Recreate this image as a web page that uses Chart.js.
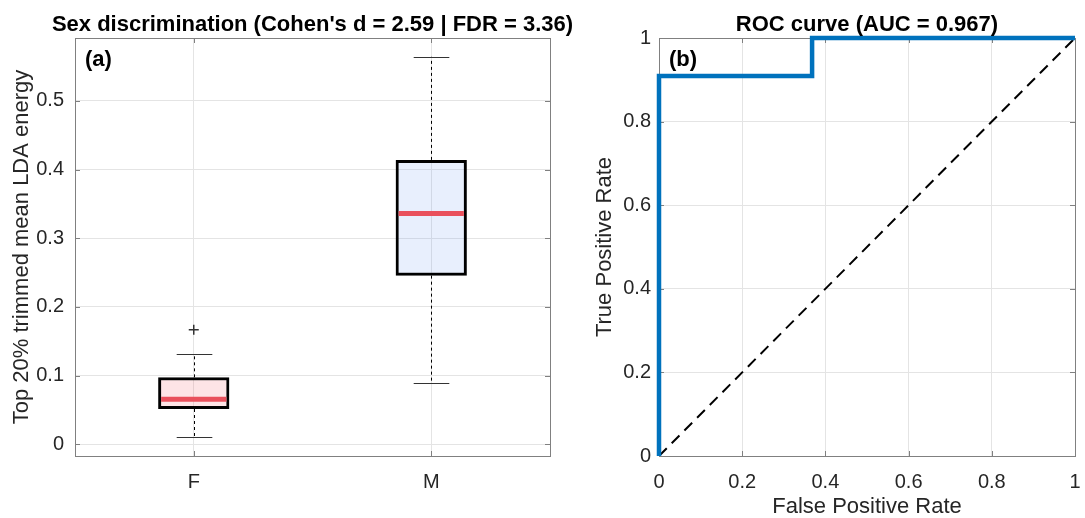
<!DOCTYPE html>
<html lang="en">
<head>
<meta charset="UTF-8">
<title>Sex discrimination / ROC</title>
<script src="https://cdn.jsdelivr.net/npm/chart.js"></script>
<style>
  body { margin: 0; background: #fff; overflow: hidden; }
  #wrap { position: relative; width: 1085px; height: 518px; }
  #boxChart { position: absolute; left: 0; top: 0; }
  #rocChart { position: absolute; left: 560px; top: 0; }
</style>
</head>
<body>
<div id="wrap">
  <canvas id="boxChart" width="600" height="518"></canvas>
  <canvas id="rocChart" width="525" height="518"></canvas>
</div>
<script>
// (a) boxplot stats per group
const groups = ['F', 'M'];
const q1 = [0.0514, 0.2455];
const q3 = [0.0975, 0.414];
const medians = [0.0655, 0.336];
const whiskerLow = [0.0106, 0.0894];
const whiskerHigh = [0.1314, 0.564];
const outliers = [[0.1666], []];
const boxYTicks = [0, 0.1, 0.2, 0.3, 0.4, 0.5];
const boxYLabels = ['0', '0.1', '0.2', '0.3', '0.4', '0.5'];

// (b) ROC curve
const fpr = [0, 0, 0.368, 0.368, 1];
const tpr = [0, 0.909, 0.909, 1, 1];
const chance = [0, 1];
const rocTicks = [0, 0.2, 0.4, 0.6, 0.8, 1];
const rocLabels = ['0', '0.2', '0.4', '0.6', '0.8', '1'];

const FONT = "'Liberation Sans', Arial, Helvetica, sans-serif";
Chart.defaults.font.family = FONT;
Chart.defaults.color = '#262626';

const GRID = '#e4e4e4';
const FRAME = '#808080';

// matlab style box around the axes with inward ticks
const frame = {
  id: 'frame',
  beforeDatasetsDraw(chart) {
    const {ctx, chartArea: a, scales: {x, y}} = chart;
    ctx.save();
    ctx.strokeStyle = FRAME;
    ctx.lineWidth = 1;
    ctx.strokeRect(Math.round(a.left) + 0.5, Math.round(a.top) + 0.5,
      Math.round(a.right - a.left), Math.round(a.bottom - a.top));
    ctx.beginPath();
    x.ticks.forEach((t, i) => {
      const px = Math.round(x.getPixelForTick(i)) + 0.5;
      ctx.moveTo(px, a.bottom); ctx.lineTo(px, a.bottom - 5);
      ctx.moveTo(px, a.top); ctx.lineTo(px, a.top + 5);
    });
    y.ticks.forEach((t, i) => {
      const py = Math.round(y.getPixelForTick(i)) + 0.5;
      ctx.moveTo(a.left, py); ctx.lineTo(a.left + 5, py);
      ctx.moveTo(a.right, py); ctx.lineTo(a.right - 5, py);
    });
    ctx.stroke();
    ctx.restore();
  }
};

// title centred over the axes, plus the (a)/(b) tag inside
const panelText = {
  id: 'panelText',
  afterDraw(chart, args, opts) {
    const {ctx, chartArea: a} = chart;
    ctx.save();
    ctx.font = 'bold 22px ' + FONT;
    ctx.fillStyle = '#000';
    ctx.textBaseline = 'middle';
    ctx.textAlign = 'center';
    ctx.fillText(opts.title, (a.left + a.right) / 2, 25);
    ctx.textAlign = 'left';
    ctx.fillText(opts.tag, a.left + 10, a.top + 22);
    ctx.restore();
  }
};

// whiskers, caps, medians and outliers around the floating bars
const boxExtras = {
  id: 'boxExtras',
  beforeDatasetsDraw(chart) {
    const {ctx, scales: {x, y}} = chart;
    const half = (x.getPixelForValue(1) - x.getPixelForValue(0)) * 0.075;
    ctx.save();
    groups.forEach((g, i) => {
      const cx = Math.round(x.getPixelForValue(i)) + 0.5;
      ctx.strokeStyle = '#000';
      ctx.lineWidth = 1;
      ctx.setLineDash([3, 3]);
      ctx.beginPath();
      ctx.moveTo(cx, y.getPixelForValue(q3[i]));
      ctx.lineTo(cx, y.getPixelForValue(whiskerHigh[i]));
      ctx.moveTo(cx, y.getPixelForValue(q1[i]));
      ctx.lineTo(cx, y.getPixelForValue(whiskerLow[i]));
      ctx.stroke();
      ctx.setLineDash([]);
      ctx.strokeStyle = '#333';
      ctx.beginPath();
      [whiskerHigh[i], whiskerLow[i]].forEach(v => {
        const py = Math.round(y.getPixelForValue(v)) + 0.5;
        ctx.moveTo(cx - half, py);
        ctx.lineTo(cx + half, py);
      });
      ctx.stroke();
    });
    ctx.restore();
  },
  afterDatasetsDraw(chart) {
    const {ctx, scales: {x, y}} = chart;
    const meta = chart.getDatasetMeta(0);
    ctx.save();
    groups.forEach((g, i) => {
      const bar = meta.data[i];
      const py = y.getPixelForValue(medians[i]);
      ctx.strokeStyle = '#e9505c';
      ctx.lineWidth = 5;
      ctx.beginPath();
      ctx.moveTo(bar.x - bar.width / 2 + 3, py);
      ctx.lineTo(bar.x + bar.width / 2 - 3, py);
      ctx.stroke();
      ctx.strokeStyle = '#333';
      ctx.lineWidth = 1.5;
      outliers[i].forEach(v => {
        const cx = x.getPixelForValue(i), oy = y.getPixelForValue(v);
        ctx.beginPath();
        ctx.moveTo(cx - 5, oy); ctx.lineTo(cx + 5, oy);
        ctx.moveTo(cx, oy - 5); ctx.lineTo(cx, oy + 5);
        ctx.stroke();
      });
    });
    ctx.restore();
  }
};

new Chart(document.getElementById('boxChart'), {
  type: 'bar',
  data: {
    labels: groups,
    datasets: [{
      data: groups.map((g, i) => [q1[i], q3[i]]),
      backgroundColor: ['rgba(245,120,130,0.2)', 'rgba(100,150,240,0.15)'],
      borderColor: '#000',
      borderWidth: 3,
      borderSkipped: false,
      barPercentage: 0.3,
      categoryPercentage: 1
    }]
  },
  options: {
    responsive: false,
    animation: false,
    layout: { padding: { top: 38, right: 50 } },
    plugins: {
      legend: { display: false },
      tooltip: { enabled: false },
      panelText: { title: "Sex discrimination (Cohen's d = 2.59 | FDR = 3.36)", tag: '(a)' }
    },
    scales: {
      x: {
        grid: { color: GRID, offset: false, drawTicks: false },
        border: { display: false },
        ticks: { font: { size: 20 }, padding: 14 },
        afterFit(s) { s.height = 62; }
      },
      y: {
        min: -0.017,
        max: 0.5914,
        grid: { color: GRID, drawTicks: false },
        border: { display: false },
        ticks: { font: { size: 20 }, padding: 11, callback: (v, i) => boxYLabels[i] },
        afterBuildTicks(s) { s.ticks = boxYTicks.map(v => ({ value: v })); },
        title: {
          display: true,
          text: 'Top 20% trimmed mean LDA energy',
          font: { size: 22, lineHeight: 1.2 },
          padding: { top: 9, bottom: 0 }
        },
        afterFit(s) { s.width = 75; }
      }
    }
  },
  plugins: [frame, boxExtras, panelText]
});

new Chart(document.getElementById('rocChart'), {
  type: 'line',
  data: {
    datasets: [{
      data: fpr.map((v, i) => ({ x: v, y: tpr[i] })),
      borderColor: '#0072BD',
      borderWidth: 4.5,
      pointRadius: 0,
      tension: 0,
      clip: 4,
      order: 0
    }, {
      data: chance.map(v => ({ x: v, y: v })),
      borderColor: '#000',
      borderWidth: 2,
      borderDash: [11, 7],
      pointRadius: 0,
      order: 1
    }]
  },
  options: {
    responsive: false,
    animation: false,
    layout: { padding: { top: 38, right: 10 } },
    plugins: {
      legend: { display: false },
      tooltip: { enabled: false },
      panelText: { title: 'ROC curve (AUC = 0.967)', tag: '(b)' }
    },
    scales: {
      x: {
        type: 'linear',
        min: 0,
        max: 1,
        grid: { color: GRID, drawTicks: false },
        border: { display: false },
        ticks: { font: { size: 20 }, padding: 14, maxRotation: 0, autoSkip: false,
                 callback: (v, i) => rocLabels[i] },
        afterBuildTicks(s) { s.ticks = rocTicks.map(v => ({ value: v })); },
        title: {
          display: true,
          text: 'False Positive Rate',
          font: { size: 22, lineHeight: 1.2 },
          padding: { top: 0, bottom: -2 }
        },
        afterFit(s) { s.height = 62; s.paddingLeft = 0; s.paddingRight = 0; }
      },
      y: {
        min: 0,
        max: 1,
        grid: { color: GRID, drawTicks: false },
        border: { display: false },
        ticks: { font: { size: 20 }, padding: 8, callback: (v, i) => rocLabels[i] },
        afterBuildTicks(s) { s.ticks = rocTicks.map(v => ({ value: v })); },
        title: {
          display: true,
          text: 'True Positive Rate',
          font: { size: 22, lineHeight: 1.2 },
          padding: { top: 32, bottom: 0 }
        },
        afterFit(s) { s.width = 99; }
      }
    }
  },
  plugins: [frame, panelText]
});
</script>
</body>
</html>
